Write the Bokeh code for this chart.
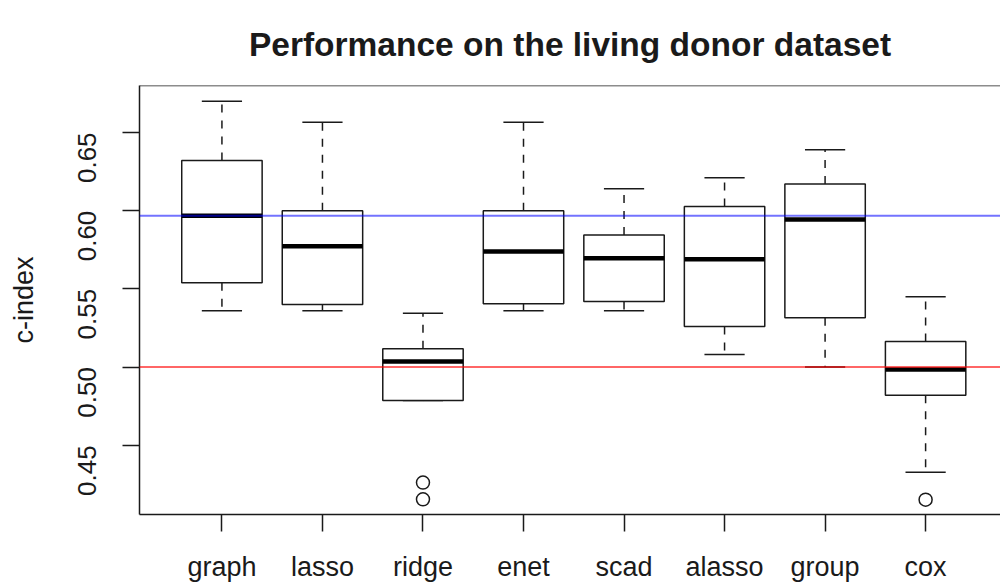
import math
from bokeh.plotting import figure
from bokeh.models import Range1d, FixedTicker, Span, ColumnDataSource
from bokeh.embed import file_html
from bokeh.resources import INLINE

# c-index distribution per method (box statistics)
methods = ["graph", "lasso", "ridge", "enet", "scad", "alasso", "group", "cox"]
upper_whisker = [0.670, 0.6565, 0.5345, 0.6565, 0.614, 0.621, 0.639, 0.545]
q3 = [0.632, 0.600, 0.5117, 0.600, 0.5845, 0.6026, 0.617, 0.5164]
median = [0.5967, 0.5773, 0.5036, 0.5739, 0.5696, 0.569, 0.5943, 0.4985]
q1 = [0.554, 0.540, 0.4787, 0.5405, 0.542, 0.526, 0.5315, 0.482]
lower_whisker = [0.536, 0.536, 0.4787, 0.536, 0.536, 0.508, 0.500, 0.4328]

outlier_method = ["ridge", "ridge", "cox"]
outlier_value = [0.4262, 0.4155, 0.4153]

y_ticks = [0.45, 0.50, 0.55, 0.60, 0.65]
y_tick_labels = ["0.45", "0.50", "0.55", "0.60", "0.65"]

chance_level = 0.5
reference_level = median[0]

FONT = "Liberation Sans"
INK = "#1a1a1a"

pos = [i + 1 for i in range(len(methods))]
half_box = 0.4
half_staple = 0.2

p = figure(
    width=1000, height=586,
    output_backend="svg", toolbar_location=None,
    x_range=Range1d(0.18, 8.745), y_range=Range1d(0.4058, 0.6800),
    min_border_left=139, min_border_right=0, min_border_top=85, min_border_bottom=72,
    title="Performance on the living donor dataset",
)
p.outline_line_color = None
p.background_fill_color = "white"
p.border_fill_color = "white"
p.xgrid.visible = False
p.ygrid.visible = False

p.title.align = "center"
p.title.text_font = FONT
p.title.text_font_size = "33.5px"
p.title.text_font_style = "bold"
p.title.text_color = INK
p.title.standoff = 46

# top edge of the frame box
p.add_layout(Span(location=0.6800, dimension="width", line_color=INK, line_width=1.5))

src = ColumnDataSource(dict(
    x=pos, left=[x - half_box for x in pos], right=[x + half_box for x in pos],
    sl=[x - half_staple for x in pos], sr=[x + half_staple for x in pos],
    uw=upper_whisker, q3=q3, med=median, q1=q1, lw=lower_whisker,
))

# whiskers
p.segment(x0="x", y0="q3", x1="x", y1="uw", source=src, line_color=INK, line_width=1.5, line_dash="8 8")
p.segment(x0="x", y0="q1", x1="x", y1="lw", source=src, line_color=INK, line_width=1.5, line_dash="8 8")
# staples
p.segment(x0="sl", y0="uw", x1="sr", y1="uw", source=src, line_color=INK, line_width=1.5)
p.segment(x0="sl", y0="lw", x1="sr", y1="lw", source=src, line_color=INK, line_width=1.5)
# boxes
p.quad(left="left", right="right", bottom="q1", top="q3", source=src,
       fill_color="white", line_color=INK, line_width=1.5)
# medians
p.segment(x0="left", y0="med", x1="right", y1="med", source=src, line_color="black", line_width=4.5)

# outliers
ox = [pos[methods.index(m)] for m in outlier_method]
p.scatter(ox, outlier_value, marker="circle", size=13, fill_color=None, line_color=INK, line_width=1.5)

# reference lines
p.add_layout(Span(location=reference_level, dimension="width", line_color="blue", line_alpha=0.55, line_width=2))
p.add_layout(Span(location=chance_level, dimension="width", line_color="red", line_alpha=0.6, line_width=2))

# axes
for ax in (p.xaxis[0], p.yaxis[0]):
    ax.axis_line_color = INK
    ax.axis_line_width = 1.5
    ax.major_tick_line_color = INK
    ax.major_tick_line_width = 1.5
    ax.major_tick_out = 17
    ax.major_tick_in = 0
    ax.minor_tick_line_color = None
    ax.major_label_text_font = FONT
    ax.major_label_text_color = INK

p.xaxis.ticker = FixedTicker(ticks=pos)
p.xaxis.major_label_overrides = {x: m for x, m in zip(pos, methods)}
p.xaxis.major_label_text_font_size = "27px"
p.xaxis.major_label_standoff = 20

p.yaxis.ticker = FixedTicker(ticks=y_ticks)
p.yaxis.major_label_overrides = {t: s for t, s in zip(y_ticks, y_tick_labels)}
p.yaxis.major_label_text_font_size = "26px"
p.yaxis.major_label_orientation = math.pi / 2
p.yaxis.major_label_standoff = 35
p.yaxis.axis_label = "c-index"
p.yaxis.axis_label_text_font = FONT
p.yaxis.axis_label_text_font_size = "27px"
p.yaxis.axis_label_text_font_style = "normal"
p.yaxis.axis_label_text_color = INK
p.yaxis.axis_label_standoff = 28

open("out.html", "w").write(file_html(p, INLINE))
